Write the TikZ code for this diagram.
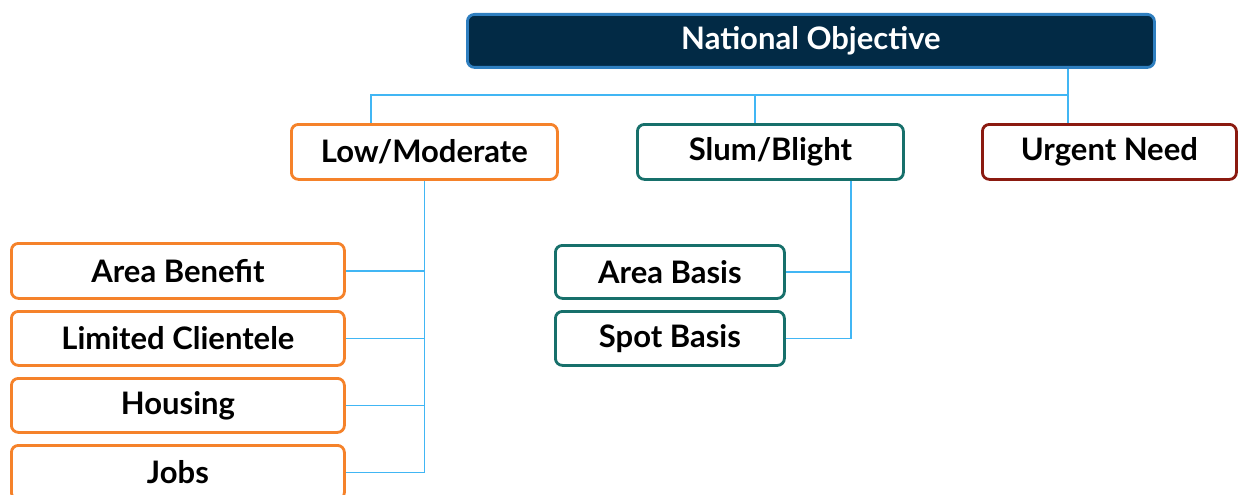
\documentclass[tikz,border=0pt]{standalone}
\usepackage{fontspec}
\setmainfont{Lato}
\definecolor{navy}{HTML}{022A45}
\definecolor{navyedge}{HTML}{2F7FC0}
\definecolor{orng}{HTML}{F5822A}
\definecolor{teal}{HTML}{17706B}
\definecolor{dred}{HTML}{8B1A10}
\definecolor{lineblue}{HTML}{41B6F4}
\begin{document}
\begin{tikzpicture}[x=1pt,y=-1pt,
  box/.style={draw, line width=2.8pt, rounded corners=7pt, fill=white, inner sep=0pt,
    anchor=north west, font=\fontsize{31}{33}\selectfont\bfseries, text=black},
  obox/.style={box, draw=orng},
  tbox/.style={box, draw=teal},
  rbox/.style={box, draw=dred},
  conn/.style={draw=lineblue, line width=1.8pt}]
\useasboundingbox (0,0) rectangle (1243,495);
% top
\node[box, draw=navyedge, fill=navy, text=white, minimum width=687pt, minimum height=53pt] (top) at (466,13) {National Objective};
% level 2
\node[obox, minimum width=266pt, minimum height=55pt] (low) at (290,123) {Low/Moderate};
\node[tbox, minimum width=266pt, minimum height=55pt] (slum) at (636,123) {Slum/Blight};
\node[rbox, minimum width=254pt, minimum height=55pt] (urg) at (981,123) {Urgent Need};
% level 3 low
\node[obox, minimum width=333pt, minimum height=55pt] (ab) at (10,242) {Area Benefit};
\node[obox, minimum width=333pt, minimum height=54pt] (lc) at (10,310) {Limited Clientele};
\node[obox, minimum width=333pt, minimum height=54pt] (hs) at (10,377) {Housing};
\node[obox, minimum width=333pt, minimum height=54pt] (jb) at (10,444) {Jobs};
% level 3 slum
\node[tbox, minimum width=229pt, minimum height=53pt] (arb) at (554,244) {Area Basis};
\node[tbox, minimum width=229pt, minimum height=54pt] (spb) at (554,310) {Spot Basis};
% connectors
\coordinate (hL) at (371,95);
\coordinate (hM) at (755,95);
\coordinate (hR) at (1068,95);
\coordinate (sv) at (851,0);
\draw[conn] (top.south -| hR) -- (hR) -- (hL) -- (low.north -| hL);
\draw[conn] (hM) -- (slum.north -| hM);
\draw[conn] (hR) -- (urg.north -| hR);
\draw[conn] (low.south) -- (jb.east -| low.south) -- (jb.east);
\draw[conn] (ab.east) -- (ab.east -| low.south);
\draw[conn] (lc.east) -- (lc.east -| low.south);
\draw[conn] (hs.east) -- (hs.east -| low.south);
\draw[conn] (slum.south -| sv) -- (spb.east -| sv) -- (spb.east);
\draw[conn] (arb.east) -- (arb.east -| sv);
\end{tikzpicture}
\end{document}
